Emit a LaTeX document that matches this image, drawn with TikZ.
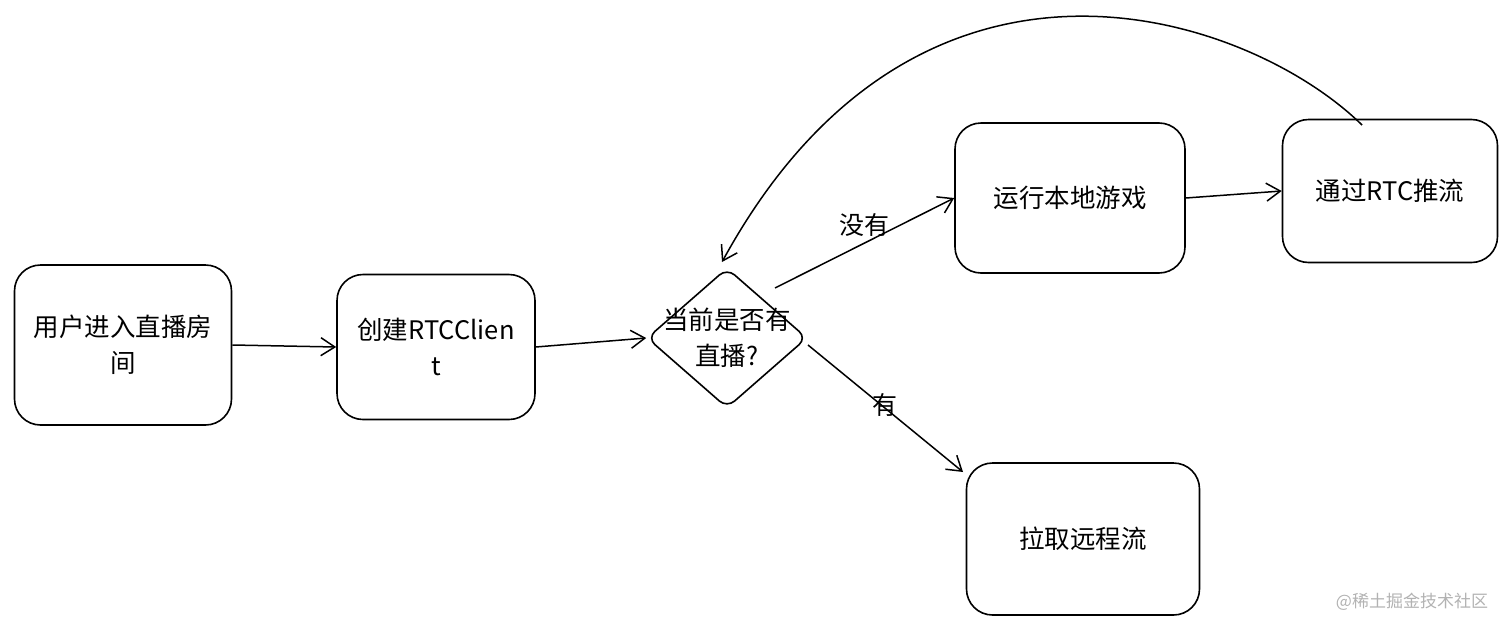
\documentclass[tikz,border=0pt]{standalone}
\usepackage{fontspec}
\setmainfont{Noto Sans CJK SC}
\usetikzlibrary{arrows.meta,shapes.geometric}
\begin{document}
\begin{tikzpicture}[x=1pt,y=-1pt,
  box/.style={draw,line width=1.6pt,rounded corners=26pt,align=center,font=\fontsize{25.5}{36}\selectfont},
  arr/.style={line width=1.5pt,-{Straight Barb[length=14pt,width=18pt]}},
  lbl/.style={font=\fontsize{25}{30}\selectfont}]
\useasboundingbox (0,0) rectangle (1512,632);
\node[box,minimum width=217pt,minimum height=160pt] (a) at (123,345) {用户进入直播房\\间};
\node[box,minimum width=198pt,minimum height=145pt] (b) at (436,347) {创建RTCClien\\t};
\node[draw,line width=1.6pt,diamond,aspect=1.15,minimum width=160pt,minimum height=140pt,rounded corners=10pt,inner sep=0pt] (d) at (727,338) {};
\node[align=center,font=\fontsize{25.5}{36}\selectfont] at (d) {当前是否有\\直播?};
\node[box,minimum width=230pt,minimum height=150pt] (e) at (1070,198) {运行本地游戏};
\node[box,minimum width=215pt,minimum height=143pt] (f) at (1390,191) {通过RTC推流};
\node[box,minimum width=233pt,minimum height=152pt] (g) at (1083,539) {拉取远程流};
\coordinate (dt) at (722,262);
\coordinate (fs) at (1362,125);
\draw[arr] (a.east) -- (b.west);
\draw[arr] (b.east) -- (d.west);
\draw[arr] (775,288) -- (e.west) node[lbl,pos=0.5,above=2pt] {没有};
\draw[arr] (808,345) -- (963,472);
\node[lbl] (y) at (885,405) {有};
\draw[arr] (e.east) -- (f.west);
\draw[arr] (fs) .. controls (1250,15) and (920,-100) .. (dt);
\node[font=\fontsize{17}{20}\selectfont,text=gray!60] at (1412,602) {@稀土掘金技术社区};
\end{tikzpicture}
\end{document}
